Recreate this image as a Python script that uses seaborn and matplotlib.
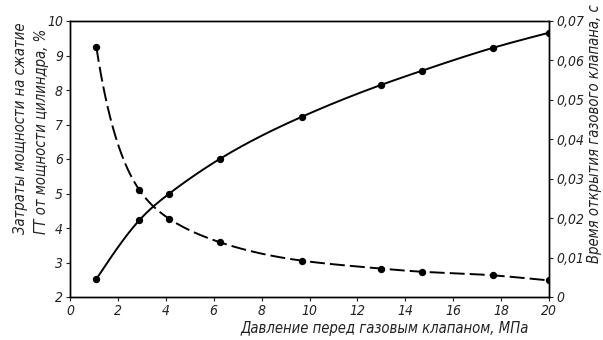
import numpy as np
import pandas as pd
import matplotlib
matplotlib.use("Agg")
import matplotlib.pyplot as plt
import seaborn as sns

# ---- data ----
pressure = [1.1, 2.9, 4.15, 6.25, 9.7, 13.0, 14.7, 17.65, 20.0]
power_cost = [2.52, 4.23, 5.0, 6.0, 7.23, 8.15, 8.56, 9.22, 9.66]
open_time = [0.0634, 0.0271, 0.0198, 0.0139, 0.0092, 0.0072, 0.0064, 0.0055, 0.0042]

x_ticks = [0, 2, 4, 6, 8, 10, 12, 14, 16, 18, 20]
left_ticks = [2, 3, 4, 5, 6, 7, 8, 9, 10]
right_ticks = [0, 0.01, 0.02, 0.03, 0.04, 0.05, 0.06, 0.07]
right_labels = ["0", "0,01", "0,02", "0,03", "0,04", "0,05", "0,06", "0,07"]

xlabel = "Давление перед газовым клапаном, МПа"
ylabel_left = "Затраты мощности на сжатие\nГТ от мощности цилиндра, %"
ylabel_right = "Время открытия газового клапана, с"

df = pd.DataFrame({"p": pressure, "cost": power_cost, "t": open_time})


def natural_spline(x, y, n=400, logx=False):
    x = np.asarray(x, float)
    y = np.asarray(y, float)
    u = np.log(x) if logx else x
    k = len(u)
    h = np.diff(u)
    A = np.zeros((k, k))
    b = np.zeros(k)
    A[0, 0] = 1
    A[-1, -1] = 1
    for i in range(1, k - 1):
        A[i, i - 1] = h[i - 1]
        A[i, i] = 2 * (h[i - 1] + h[i])
        A[i, i + 1] = h[i]
        b[i] = 3 * ((y[i + 1] - y[i]) / h[i] - (y[i] - y[i - 1]) / h[i - 1])
    c = np.linalg.solve(A, b)
    xs = np.linspace(x[0], x[-1], n)
    us = np.log(xs) if logx else xs
    idx = np.clip(np.searchsorted(u, us) - 1, 0, k - 2)
    du = us - u[idx]
    bb = (y[idx + 1] - y[idx]) / h[idx] - h[idx] * (2 * c[idx] + c[idx + 1]) / 3
    dd = (c[idx + 1] - c[idx]) / (3 * h[idx])
    ys = y[idx] + bb * du + c[idx] * du ** 2 + dd * du ** 3
    return xs, ys


sns.set_style("ticks")
plt.rcParams["font.family"] = ["DejaVu Sans"]
plt.rcParams["font.style"] = "italic"
plt.rcParams["font.stretch"] = "condensed"

FS_TICK = 10
FS_LAB = 10.6
TXT = "#222222"

fig = plt.figure(figsize=(6.03, 3.40), dpi=100)
ax = fig.add_axes([70 / 603, 1 - 297 / 340, 479 / 603, 276 / 340])
ax2 = ax.twinx()

xs, ys = natural_spline(df["p"], df["cost"], logx=False)
ax.plot(xs, ys, color="black", lw=1.4)
sns.scatterplot(data=df, x="p", y="cost", ax=ax, color="black", s=28,
                edgecolor="black", linewidth=0, zorder=5)

xs2, ys2 = natural_spline(df["p"], df["t"], logx=True)
ax2.plot(xs2, ys2, color="black", lw=1.4, dashes=(7.7, 2.6))
sns.scatterplot(data=df, x="p", y="t", ax=ax2, color="black", s=28,
                edgecolor="black", linewidth=0, zorder=5)

ax.set_xlim(0, 20)
ax.set_ylim(2, 10)
ax2.set_ylim(0, 0.07)
ax.set_xticks(x_ticks)
ax.set_xticklabels([str(v) for v in x_ticks])
ax.set_yticks(left_ticks)
ax.set_yticklabels([str(v) for v in left_ticks])
ax2.set_yticks(right_ticks)
ax2.set_yticklabels(right_labels)

for a in (ax, ax2):
    for s in a.spines.values():
        s.set_visible(True)
        s.set_linewidth(1.0)
        s.set_color("black")
    a.tick_params(direction="out", length=3, width=0.8, colors=TXT,
                  labelsize=FS_TICK, pad=2)

ax.set_xlabel("")
ax.set_ylabel("")
ax2.set_ylabel("")
ax.set_zorder(ax2.get_zorder() + 1)
ax.patch.set_visible(False)

fig.text(385 / 603, 1 - 328 / 340, xlabel, ha="center", va="center",
         fontsize=FS_LAB, style="italic", color=TXT)
fig.text(31 / 603, 1 - 234 / 340, ylabel_left, ha="center", va="bottom",
         rotation=90, fontsize=FS_LAB, style="italic", linespacing=1.45,
         multialignment="left", color=TXT)
fig.text(594 / 603, 1 - 134 / 340, ylabel_right, ha="center", va="center",
         rotation=90, fontsize=FS_LAB, style="italic", color=TXT)

fig.savefig("out.png", dpi=100)
